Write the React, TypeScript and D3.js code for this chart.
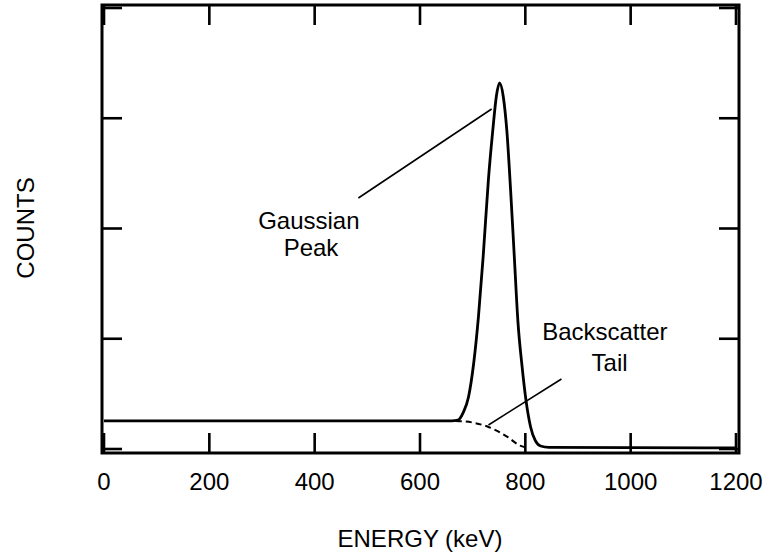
import React from "react";
import * as d3 from "d3";

// Spectrum: energy (keV) vs counts (arbitrary units)
const spectrumEnergy = [0, 660, 672, 682, 692, 702, 711, 720, 730, 738, 745, 751, 758, 765, 772, 779, 786, 794, 801, 810, 819, 829, 845, 1000, 1200];
const spectrumCounts = [0.255, 0.255, 0.262, 0.33, 0.47, 0.78, 1.2, 1.75, 2.45, 2.88, 3.2, 3.32, 3.2, 2.88, 2.35, 1.75, 1.15, 0.74, 0.45, 0.2, 0.075, 0.027, 0.015, 0.012, 0.01];

// Backscatter tail underneath the peak
const tailEnergy = [668, 700, 730, 766, 790, 800];
const tailCounts = [0.255, 0.24, 0.2, 0.11, 0.03, 0.015];

const xTicks = [0, 200, 400, 600, 800, 1000, 1200];
const yTicks = [0, 1, 2, 3, 4];

const W = 765;
const H = 553;
const FONT = "'Liberation Sans', Arial, Helvetica, sans-serif";

const frame = { left: 102, right: 739, top: 5, bottom: 453 };

export default function App() {
  const x = d3.scaleLinear().domain([0, 1200]).range([104, 736]);
  const y = d3.scaleLinear().domain([0, 4]).range([449, 8]);

  const line = d3
    .line<[number, number]>()
    .x((d) => x(d[0]))
    .y((d) => y(d[1]))
    .curve(d3.curveMonotoneX);

  const spectrum = spectrumEnergy.map((e, i) => [e, spectrumCounts[i]] as [number, number]);
  const tail = tailEnergy.map((e, i) => [e, tailCounts[i]] as [number, number]);

  const tickLen = 20;

  return (
    <svg
      width={W}
      height={H}
      style={{ position: "absolute", left: 0, top: 0, background: "#fff" }}
      fontFamily={FONT}
    >
      <rect x={0} y={0} width={W} height={H} fill="#fff" />

      {/* spectrum curve */}
      <path d={line(spectrum) ?? ""} fill="none" stroke="#000" strokeWidth={2.8} strokeLinejoin="round" />
      {/* backscatter tail */}
      <path
        d={line(tail) ?? ""}
        fill="none"
        stroke="#000"
        strokeWidth={2}
        strokeDasharray="6,4"
      />

      {/* frame */}
      <rect
        x={frame.left}
        y={frame.top}
        width={frame.right - frame.left}
        height={frame.bottom - frame.top}
        fill="none"
        stroke="#000"
        strokeWidth={3}
      />

      {/* x ticks, bottom and top */}
      {xTicks.map((t) => (
        <g key={"xt" + t}>
          <line x1={x(t)} x2={x(t)} y1={frame.bottom} y2={frame.bottom - tickLen} stroke="#000" strokeWidth={2.6} />
          <line x1={x(t)} x2={x(t)} y1={frame.top} y2={frame.top + tickLen} stroke="#000" strokeWidth={2.6} />
          <text x={x(t)} y={490} textAnchor="middle" fontSize={24} fill="#000">
            {t}
          </text>
        </g>
      ))}

      {/* y ticks, left and right */}
      {yTicks.map((t) => (
        <g key={"yt" + t}>
          <line x1={frame.left} x2={frame.left + tickLen} y1={y(t)} y2={y(t)} stroke="#000" strokeWidth={2.6} />
          <line x1={frame.right} x2={frame.right - tickLen} y1={y(t)} y2={y(t)} stroke="#000" strokeWidth={2.6} />
        </g>
      ))}

      {/* axis titles */}
      <text x={420} y={547} textAnchor="middle" fontSize={24} fill="#000">
        ENERGY (keV)
      </text>
      <text
        transform={`translate(34, 228) rotate(-90)`}
        textAnchor="middle"
        fontSize={24}
        fill="#000"
      >
        COUNTS
      </text>

      {/* annotations */}
      <line x1={x(483)} y1={y(2.277)} x2={x(736)} y2={y(3.084)} stroke="#000" strokeWidth={1.6} />
      <text x={x(389)} y={y(1.995)} textAnchor="middle" fontSize={24} fill="#000">
        Gaussian
      </text>
      <text x={x(393)} y={y(1.75)} textAnchor="middle" fontSize={24} fill="#000">
        Peak
      </text>

      <line x1={x(730)} y1={y(0.218)} x2={x(868.6)} y2={y(0.635)} stroke="#000" strokeWidth={1.6} />
      <text x={x(951)} y={y(0.989)} textAnchor="middle" fontSize={24} fill="#000">
        Backscatter
      </text>
      <text x={x(960)} y={y(0.707)} textAnchor="middle" fontSize={24} fill="#000">
        Tail
      </text>
    </svg>
  );
}
